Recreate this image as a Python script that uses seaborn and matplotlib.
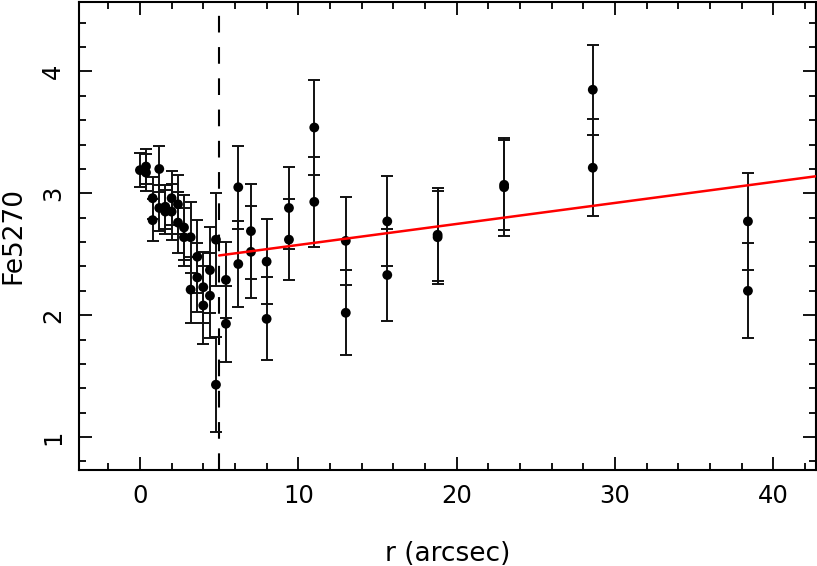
import matplotlib
matplotlib.use('Agg')
import matplotlib.pyplot as plt
import seaborn as sns
import numpy as np
import pandas as pd
from matplotlib.ticker import MultipleLocator

# radius (arcsec), Fe5270 index and its error
r = [0.0, 0.38, 0.38, 0.80, 0.80, 1.22, 1.22, 1.60, 1.60, 2.00, 2.00,
     2.40, 2.40, 2.78, 2.78, 3.20, 3.20, 3.62, 3.62, 4.00, 4.00,
     4.42, 4.42, 4.80, 4.80, 5.43, 5.43, 6.21, 6.21, 7.01, 7.01,
     8.0, 8.0, 9.41, 9.41, 11.01, 11.01, 13.0, 13.0, 15.62, 15.62,
     18.8, 18.8, 23.0, 23.0, 28.6, 28.6, 38.4, 38.4]
fe5270 = [3.19, 3.22, 3.17, 2.96, 2.78, 3.20, 2.88, 2.89, 2.85, 2.96, 2.85,
          2.91, 2.76, 2.72, 2.64, 2.64, 2.21, 2.48, 2.31, 2.23, 2.08,
          2.37, 2.16, 2.62, 1.43, 2.29, 1.93, 3.05, 2.42, 2.69, 2.52,
          2.44, 1.97, 2.88, 2.62, 3.54, 2.93, 2.61, 2.02, 2.77, 2.33,
          2.66, 2.64, 3.07, 3.05, 3.85, 3.21, 2.77, 2.20]
fe5270_err = [0.14, 0.14, 0.15, 0.17, 0.17, 0.19, 0.19, 0.18, 0.18, 0.22, 0.23,
              0.24, 0.25, 0.27, 0.24, 0.29, 0.27, 0.30, 0.28, 0.29, 0.32,
              0.35, 0.35, 0.38, 0.39, 0.31, 0.31, 0.34, 0.35, 0.39, 0.38,
              0.35, 0.34, 0.34, 0.33, 0.39, 0.37, 0.36, 0.35, 0.37, 0.38,
              0.38, 0.38, 0.37, 0.40, 0.37, 0.40, 0.40, 0.39]

# linear fit outside r_cut
r_cut = 5.0
fit_slope = 0.01724
fit_intercept = 2.404

df = pd.DataFrame({'r': r, 'Fe5270': fe5270, 'err': fe5270_err})

sns.set_style("ticks")
plt.rcParams['font.family'] = ['DejaVu Sans']
plt.rcParams['text.color'] = 'black'
plt.rcParams['axes.labelcolor'] = 'black'
plt.rcParams['xtick.color'] = 'black'
plt.rcParams['ytick.color'] = 'black'

fig = plt.figure(figsize=(8.17, 5.66), dpi=100)
ax = fig.add_axes([0.0967, 0.1696, 0.9021, 0.8269])

ax.errorbar(df['r'], df['Fe5270'], yerr=df['err'], fmt='none',
            ecolor='#111111', elinewidth=1.4, capsize=4, capthick=1.4, zorder=2)
sns.scatterplot(data=df, x='r', y='Fe5270', color='black', s=50,
                edgecolor='none', ax=ax, zorder=3)

# fitted line
fit_r = np.array([r_cut, 45.0])
sns.lineplot(x=fit_r, y=fit_intercept + fit_slope * fit_r, color='red',
             linewidth=1.8, ax=ax, zorder=4)

ax.axvline(r_cut, color='black', linewidth=1.5, dashes=(8, 7), zorder=1)

ax.set_xlim(-3.85, 42.7)
ax.set_ylim(0.73, 4.57)

ax.xaxis.set_major_locator(MultipleLocator(10))
ax.xaxis.set_minor_locator(MultipleLocator(2))
ax.yaxis.set_major_locator(MultipleLocator(1))
ax.yaxis.set_minor_locator(MultipleLocator(0.2))

ax.tick_params(which='both', direction='in', top=True, right=True,
               width=1.3, color='black')
ax.tick_params(which='major', length=9.5, labelsize=17.5)
ax.tick_params(which='minor', length=5)
ax.tick_params(axis='x', pad=10)
ax.tick_params(axis='y', labelrotation=90, pad=10)
for lab in ax.get_yticklabels():
    lab.set_va('center')

for sp in ax.spines.values():
    sp.set_linewidth(1.5)
    sp.set_color('black')

ax.set_xlabel('r (arcsec)', fontsize=19, labelpad=24)
ax.set_ylabel('Fe5270', fontsize=19)
ax.yaxis.set_label_coords(-0.072, 0.5)

plt.savefig('out.png', dpi=100)
